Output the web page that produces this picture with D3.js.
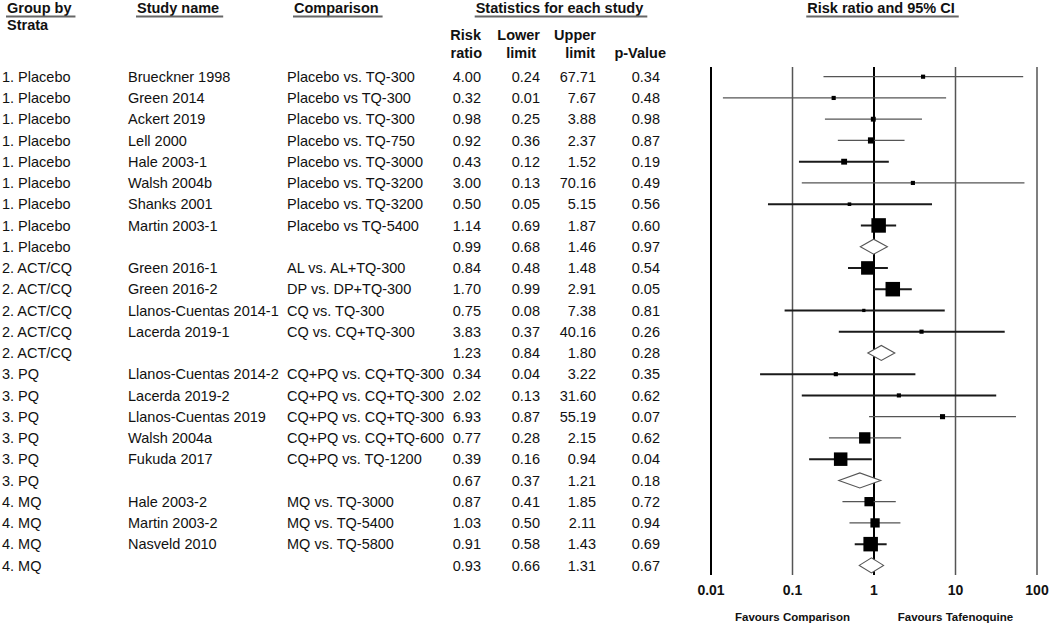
<!DOCTYPE html>
<html>
<head>
<meta charset="utf-8">
<script src="https://cdn.jsdelivr.net/npm/d3@7"></script>
<style>
  html, body { margin: 0; padding: 0; background: #fff; }
  svg { display: block; font-family: "Liberation Sans", Arial, sans-serif; }
</style>
</head>
<body>
<svg id="chart" width="1050" height="625"></svg>
<script>
// ---------- DATA ----------
const groupLabels = [
  "1. Placebo","1. Placebo","1. Placebo","1. Placebo","1. Placebo","1. Placebo","1. Placebo","1. Placebo","1. Placebo",
  "2. ACT/CQ","2. ACT/CQ","2. ACT/CQ","2. ACT/CQ","2. ACT/CQ",
  "3. PQ","3. PQ","3. PQ","3. PQ","3. PQ","3. PQ",
  "4. MQ","4. MQ","4. MQ","4. MQ"
];
const studyNames = [
  "Brueckner 1998","Green 2014","Ackert 2019","Lell 2000","Hale 2003-1","Walsh 2004b","Shanks 2001","Martin 2003-1","",
  "Green 2016-1","Green 2016-2","Llanos-Cuentas 2014-1","Lacerda 2019-1","",
  "Llanos-Cuentas 2014-2","Lacerda 2019-2","Llanos-Cuentas 2019","Walsh 2004a","Fukuda 2017","",
  "Hale 2003-2","Martin 2003-2","Nasveld 2010",""
];
const comparisons = [
  "Placebo vs. TQ-300","Placebo vs TQ-300","Placebo vs. TQ-300","Placebo vs. TQ-750","Placebo vs. TQ-3000","Placebo vs. TQ-3200","Placebo vs. TQ-3200","Placebo vs TQ-5400","",
  "AL vs. AL+TQ-300","DP vs. DP+TQ-300","CQ vs. TQ-300","CQ vs. CQ+TQ-300","",
  "CQ+PQ vs. CQ+TQ-300","CQ+PQ vs. CQ+TQ-300","CQ+PQ vs. CQ+TQ-300","CQ+PQ vs. CQ+TQ-600","CQ+PQ vs. TQ-1200","",
  "MQ vs. TQ-3000","MQ vs. TQ-5400","MQ vs. TQ-5800",""
];
const riskRatios  = [4.00,0.32,0.98,0.92,0.43,3.00,0.50,1.14,0.99, 0.84,1.70,0.75,3.83,1.23, 0.34,2.02,6.93,0.77,0.39,0.67, 0.87,1.03,0.91,0.93];
const lowerLimits = [0.24,0.014,0.25,0.36,0.12,0.13,0.05,0.69,0.68, 0.48,0.99,0.08,0.37,0.84, 0.04,0.13,0.87,0.28,0.16,0.37, 0.41,0.50,0.58,0.66];
const upperLimits = [67.71,7.67,3.88,2.37,1.52,70.16,5.15,1.87,1.46, 1.48,2.91,7.38,40.16,1.80, 3.22,31.60,55.19,2.15,0.94,1.21, 1.85,2.11,1.43,1.31];
const pValues     = [0.34,0.48,0.98,0.87,0.19,0.49,0.56,0.60,0.97, 0.54,0.05,0.81,0.26,0.28, 0.35,0.62,0.07,0.62,0.04,0.18, 0.72,0.94,0.69,0.67];
// relative study weights (null = subgroup summary row)
const weights     = [8,8,11,18,16,8,6,98,null, 85,98,5,8,null, 8,8,12,60,85,null, 40,40,98,null];
const axisTicks   = [0.01, 0.1, 1, 10, 100];
const axisTickLabels = ["0.01","0.1","1","10","100"];
const favourLabels = ["Favours Comparison","Favours Tafenoquine"];

// ---------- STYLE ----------
const thickRows = new Set(["Hale 2003-1","Shanks 2001","Martin 2003-1","Green 2016-1","Green 2016-2",
  "Llanos-Cuentas 2014-1","Lacerda 2019-1","Llanos-Cuentas 2014-2","Lacerda 2019-2","Fukuda 2017","Nasveld 2010"]);
const FS = 14.5;

const rows = riskRatios.map((rr, i) => ({
  i, group: groupLabels[i], study: studyNames[i], comp: comparisons[i],
  rr, lo: lowerLimits[i], hi: upperLimits[i], p: pValues[i], w: weights[i]
}));

const svg = d3.select("#chart");

const y = d3.scalePoint().domain(d3.range(rows.length)).range([76.7, 565.4]);
const x = d3.scaleLog().domain([0.01, 100]).range([711, 1037]);
const box = d3.scaleSqrt().domain([0, d3.max(weights)]).range([0, 14.5]);
const fmt = d3.format(".2f");

// ---------- HEADERS ----------
function header(txt, xPos, yPos, anchor, underline) {
  const t = svg.append("text").attr("x", xPos).attr("y", yPos)
    .attr("font-size", FS).attr("font-weight", "bold").attr("fill", "#111")
    .attr("text-anchor", anchor || "start").text(txt);
  if (underline) {
    const w = t.node().getComputedTextLength();
    const x0 = anchor === "middle" ? xPos - w / 2 : xPos;
    svg.append("line").attr("x1", x0 - 1).attr("x2", x0 + w + 4)
      .attr("y1", 16.5).attr("y2", 16.5).attr("stroke", "#666").attr("stroke-width", 1.8);
  }
}
header("Group by", 7, 12.5, "start", true);
header("Strata", 7, 29.5, "start", false);
header("Study name", 137, 12.5, "start", true);
header("Comparison", 294, 12.5, "start", true);
header("Statistics for each study", 559.5, 12.5, "middle", true);
header("Risk ratio and 95% CI", 881, 12.5, "middle", true);

const sub = [
  ["Risk", 481, 40], ["ratio", 482, 58],
  ["Lower", 540, 40], ["limit", 536, 58],
  ["Upper", 596, 40], ["limit", 595, 58],
  ["p-Value", 666, 58]
];
sub.forEach(s => header(s[0], s[1], s[2], "end", false));

// ---------- TABLE ----------
const tbl = svg.append("g").attr("font-size", FS).attr("fill", "#111");
const cols = [
  { key: d => d.group, x: 2, anchor: "start" },
  { key: d => d.study, x: 128, anchor: "start" },
  { key: d => d.comp, x: 287, anchor: "start" },
  { key: d => fmt(d.rr), x: 481, anchor: "end" },
  { key: d => fmt(d.lo), x: 540, anchor: "end" },
  { key: d => fmt(d.hi), x: 596, anchor: "end" },
  { key: d => fmt(d.p), x: 660, anchor: "end" }
];
cols.forEach(c => {
  tbl.selectAll(null).data(rows).join("text")
    .attr("x", c.x).attr("y", d => y(d.i) + 5.2)
    .attr("text-anchor", c.anchor).text(c.key);
});

// ---------- PLOT ----------
const plot = svg.append("g");
plot.selectAll("line.ref").data(axisTicks).join("line")
  .attr("class", "ref")
  .attr("x1", d => x(d)).attr("x2", d => x(d))
  .attr("y1", 67).attr("y2", 575)
  .attr("stroke", d => (d === 0.01 || d === 1) ? "#000" : "#555")
  .attr("stroke-width", d => (d === 0.01 || d === 1) ? 2 : 1.5);

const studies = rows.filter(d => d.w != null);
const summaries = rows.filter(d => d.w == null);

plot.selectAll("line.ci").data(studies).join("line")
  .attr("class", "ci")
  .attr("x1", d => x(d.lo)).attr("x2", d => x(d.hi))
  .attr("y1", d => y(d.i)).attr("y2", d => y(d.i))
  .attr("stroke", d => thickRows.has(d.study) ? "#1a1a1a" : "#555")
  .attr("stroke-width", d => thickRows.has(d.study) ? 2 : 1.3);

plot.selectAll("rect.box").data(studies).join("rect")
  .attr("class", "box")
  .attr("x", d => x(d.rr) - box(d.w) / 2)
  .attr("y", d => y(d.i) - box(d.w) / 2)
  .attr("width", d => box(d.w)).attr("height", d => box(d.w))
  .attr("fill", "#000");

plot.selectAll("path.dia").data(summaries).join("path")
  .attr("class", "dia")
  .attr("d", d => {
    const cy = y(d.i), h = 7.5;
    return `M${x(d.lo)},${cy}L${x(d.rr)},${cy - h}L${x(d.hi)},${cy}L${x(d.rr)},${cy + h}Z`;
  })
  .attr("fill", "#fff").attr("stroke", "#555").attr("stroke-width", 1.1);

// ---------- AXIS LABELS ----------
svg.append("g").selectAll("text").data(axisTicks).join("text")
  .attr("x", d => x(d)).attr("y", 595)
  .attr("text-anchor", "middle").attr("font-size", 14).attr("font-weight", "bold")
  .attr("fill", "#111")
  .text((d, i) => axisTickLabels[i]);

svg.append("g").selectAll("text").data(favourLabels).join("text")
  .attr("x", (d, i) => x(i === 0 ? 0.1 : 10)).attr("y", 621)
  .attr("text-anchor", "middle").attr("font-size", 11.5).attr("font-weight", "bold")
  .attr("fill", "#111")
  .text(d => d);
</script>
</body>
</html>
